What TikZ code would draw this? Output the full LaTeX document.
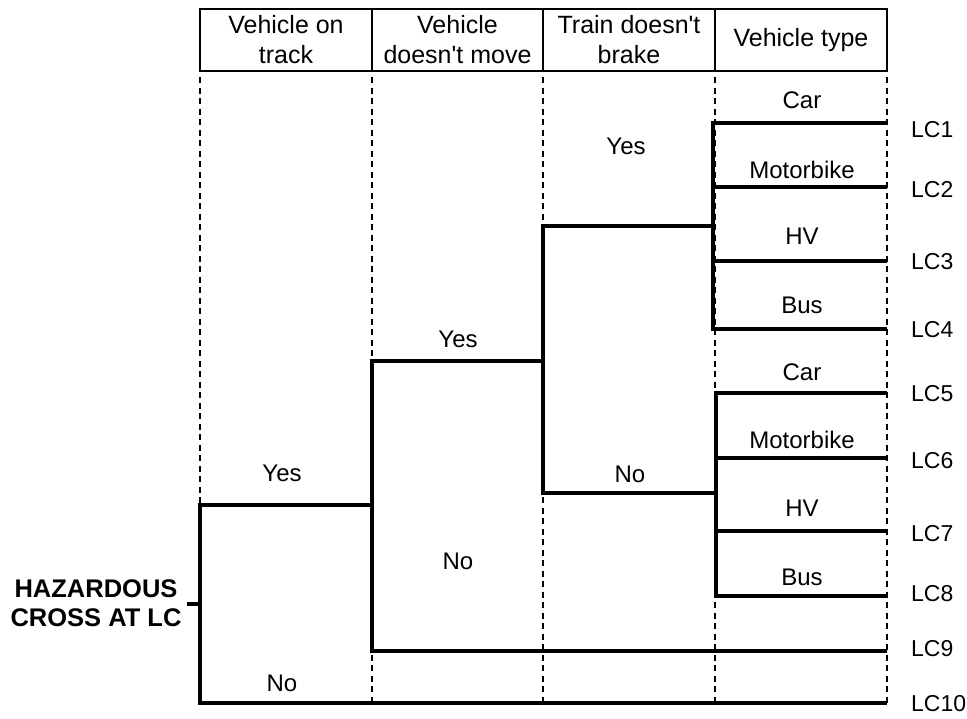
\documentclass[tikz,border=0pt]{standalone}
\usepackage{fontspec}
\setmainfont{Liberation Sans}[Ligatures=TeXOff]
\begin{document}
\begin{tikzpicture}[x=1pt,y=-1pt,
  hdr/.style={draw,line width=1.6pt,minimum width=172pt,minimum height=62pt,align=center,inner sep=0pt,font=\fontsize{25}{30}\selectfont},
  lbl/.style={inner sep=0pt,font=\fontsize{24}{28}\selectfont},
  lcl/.style={inner sep=0pt,anchor=west,font=\fontsize{23}{27}\selectfont},
  tree/.style={line width=3.2pt,line join=miter},
  guide/.style={line width=1.3pt,dash pattern=on 6pt off 4.5pt}]
\useasboundingbox (0,0) rectangle (967,718);
% header
\node[hdr] (h1) at (286,40) {Vehicle on\\track};
\node[hdr] (h2) at (457.5,40) {Vehicle\\doesn't move};
\node[hdr] (h3) at (629,40) {Train doesn't\\brake};
\node[hdr] (h4) at (801,40) {Vehicle type};
% guide coordinates
\foreach \i/\x in {1/200,2/372,3/543,4/715,5/887}{
  \coordinate (gt\i) at (\x,77);
  \coordinate (gb\i) at (\x,706);
}
\foreach \i in {1,...,5}{ \draw[guide] (gt\i) -- (gb\i); }
% junction coordinates
\coordinate (s) at (187,604);
\coordinate (a) at (200,604);
\coordinate (a1) at (200,505);
\coordinate (a2) at (200,703);
\coordinate (b) at (372,505);
\coordinate (b1) at (372,361);
\coordinate (b2) at (372,651);
\coordinate (c) at (543,361);
\coordinate (c1) at (543,226);
\coordinate (c2) at (543,493);
\coordinate (d) at (713,226);
\coordinate (d1) at (713,123);
\coordinate (d2) at (713,187);
\coordinate (d3) at (713,261);
\coordinate (d4) at (713,329);
\coordinate (f) at (716,493);
\coordinate (f1) at (716,393);
\coordinate (f2) at (716,458);
\coordinate (f3) at (716,531);
\coordinate (f4) at (716,596);
\foreach \i/\y in {1/123,2/187,3/261,4/329,5/393,6/458,7/531,8/596,9/651,10/703}{
  \coordinate (e\i) at (887,\y);
}
\foreach \i/\y in {1/130,2/190,3/262,4/330,5/394,6/461,7/534,8/594,9/649,10/704}{
  \node[lcl] (lc\i) at (911,\y) {LC\i};
}
% root label
\node[inner sep=0pt,align=center,font=\bfseries\fontsize{25.5}{29}\selectfont] (hz) at (96,603) {HAZARDOUS\\CROSS AT LC};
% tree
\draw[tree] (s) -- (a);
\draw[tree] (b) -- (a1) -- (a2) -- (e10);
\draw[tree] (c) -- (b1) -- (b2) -- (e9);
\draw[tree] (d) -- (c1) -- (c2) -- (f);
\draw[tree] (e1) -- (d1) -- (d4) -- (e4);
\draw[tree] (d2) -- (e2);
\draw[tree] (d3) -- (e3);
\draw[tree] (e5) -- (f1) -- (f4) -- (e8);
\draw[tree] (f2) -- (e6);
\draw[tree] (f3) -- (e7);
% branch labels
\node[lbl] (y1) at (282,473) {Yes};
\node[lbl] (n1) at (282,683) {No};
\node[lbl] (y2) at (458,339) {Yes};
\node[lbl] (n2) at (458,561) {No};
\node[lbl] (y3) at (626,146) {Yes};
\node[lbl] (n3) at (630,474) {No};
\node[lbl] (t1) at (802,100) {Car};
\node[lbl] (t2) at (802,170) {Motorbike};
\node[lbl] (t3) at (802,236) {HV};
\node[lbl] (t4) at (802,305) {Bus};
\node[lbl] (t5) at (802,372) {Car};
\node[lbl] (t6) at (802,440) {Motorbike};
\node[lbl] (t7) at (802,508) {HV};
\node[lbl] (t8) at (802,577) {Bus};
\end{tikzpicture}
\end{document}
